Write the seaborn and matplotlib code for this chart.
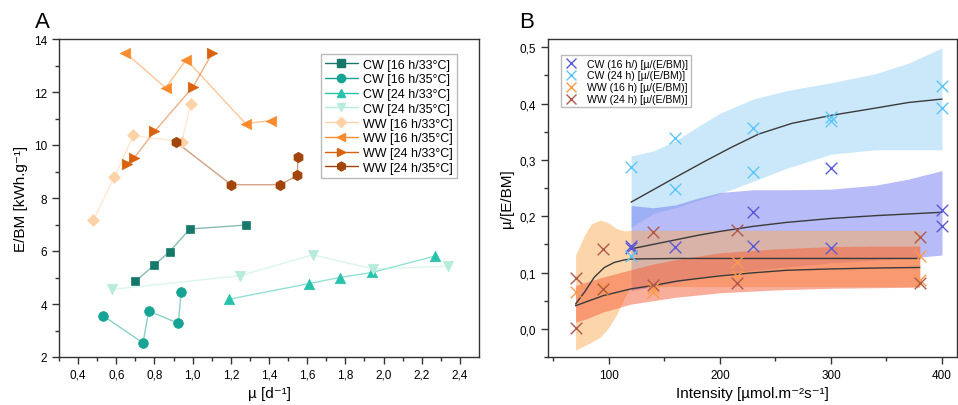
import matplotlib
matplotlib.use("Agg")
import matplotlib.pyplot as plt
import seaborn as sns
from matplotlib.lines import Line2D

# ---------------- Panel A data ----------------
a_labels = ["CW [16 h/33°C]", "CW [16 h/35°C]", "CW [24 h/33°C]", "CW [24 h/35°C]",
            "WW [16 h/33°C]", "WW [16 h/35°C]", "WW [24 h/33°C]", "WW [24 h/35°C]"]
cw16_33_mu = [0.70, 0.80, 0.88, 0.985, 1.28]
cw16_33_e = [4.85, 5.48, 5.98, 6.83, 6.98]
cw16_35_mu = [0.53, 0.74, 0.77, 0.925, 0.94]
cw16_35_e = [3.56, 2.53, 3.74, 3.27, 4.46]
cw24_33_mu = [1.19, 1.61, 1.77, 1.94, 2.27]
cw24_33_e = [4.18, 4.77, 5.00, 5.19, 5.81]
cw24_35_mu = [0.58, 1.25, 1.63, 1.945, 2.34]
cw24_35_e = [4.55, 5.07, 5.86, 5.32, 5.43]
ww16_33_mu = [0.48, 0.59, 0.69, 0.943, 0.99]
ww16_33_e = [7.16, 8.79, 10.36, 10.11, 11.56]
ww16_35_mu = [0.647, 0.858, 0.967, 1.277, 1.408]
ww16_35_e = [13.49, 12.16, 13.22, 10.81, 10.92]
ww24_33_mu = [0.655, 0.692, 0.80, 1.002, 1.103]
ww24_33_e = [9.29, 9.50, 10.51, 12.19, 13.47]
ww24_35_mu = [0.912, 1.202, 1.458, 1.548, 1.552]
ww24_35_e = [10.12, 8.50, 8.50, 8.85, 9.55]

a_xticks = [0.4, 0.6, 0.8, 1.0, 1.2, 1.4, 1.6, 1.8, 2.0, 2.2, 2.4]
a_xticklabels = ["0,4", "0,6", "0,8", "1,0", "1,2", "1,4", "1,6", "1,8", "2,0", "2,2", "2,4"]
a_yticks = [2, 4, 6, 8, 10, 12, 14]

# ---------------- Panel B data ----------------
b_labels = ["CW (16 h/) [µ/(E/BM)]", "CW (24 h) [µ/(E/BM)]", "WW (16 h) [µ/(E/BM)]", "WW (24 h) [µ/(E/BM)]"]
cw16_I = [120, 120, 160, 230, 230, 300, 300, 400, 400]
cw16_v = [0.148, 0.143, 0.145, 0.207, 0.148, 0.286, 0.144, 0.211, 0.183]
cw24_I = [120, 120, 160, 160, 230, 230, 300, 300, 400, 400]
cw24_v = [0.287, 0.129, 0.339, 0.248, 0.357, 0.278, 0.377, 0.369, 0.432, 0.392]
ww16_I = [70, 95, 95, 140, 140, 215, 215, 380, 380]
ww16_v = [0.066, 0.074, 0.069, 0.073, 0.066, 0.118, 0.094, 0.129, 0.086]
ww24_I = [70, 70, 95, 95, 140, 140, 215, 215, 380, 380]
ww24_v = [0.090, 0.001, 0.142, 0.071, 0.172, 0.077, 0.175, 0.082, 0.163, 0.082]

# fitted curves
cw24_fit_x = [120, 140, 160, 185, 210, 235, 265, 300, 340, 370, 400]
cw24_fit_y = [0.225, 0.247, 0.269, 0.296, 0.322, 0.346, 0.365, 0.379, 0.392, 0.402, 0.408]
cw16_fit_x = [120, 140, 160, 180, 200, 230, 260, 300, 340, 370, 400]
cw16_fit_y = [0.142, 0.150, 0.158, 0.166, 0.173, 0.182, 0.189, 0.196, 0.201, 0.204, 0.207]
ww16_fit_x = [70, 78, 87, 96, 105, 114, 121, 160, 200, 250, 300, 350, 380]
ww16_fit_y = [0.044, 0.065, 0.092, 0.109, 0.118, 0.1225, 0.124, 0.125, 0.125, 0.125, 0.125, 0.125, 0.125]
ww24_fit_x = [70, 95, 120, 140, 162, 200, 230, 260, 300, 340, 380]
ww24_fit_y = [0.041, 0.059, 0.071, 0.077, 0.085, 0.094, 0.0995, 0.104, 0.1064, 0.108, 0.109]

# confidence bands
cw24_band_x = [120, 140, 160, 180, 200, 230, 260, 300, 340, 370, 400]
cw24_band_hi = [0.307, 0.316, 0.334, 0.359, 0.383, 0.408, 0.423, 0.437, 0.453, 0.472, 0.499]
cw24_band_lo = [0.180, 0.205, 0.215, 0.228, 0.240, 0.262, 0.285, 0.310, 0.318, 0.318, 0.318]
cw16_band_x = [120, 140, 160, 180, 200, 230, 260, 300, 340, 370, 400]
cw16_band_hi = [0.219, 0.215, 0.220, 0.232, 0.242, 0.247, 0.247, 0.248, 0.255, 0.266, 0.281]
cw16_band_lo = [0.068, 0.075, 0.082, 0.090, 0.097, 0.104, 0.110, 0.117, 0.122, 0.126, 0.131]
ww16_band_x = [70, 78, 84, 92, 99, 107, 114, 120, 160, 200, 250, 300, 340, 380]
ww16_band_hi = [0.131, 0.166, 0.186, 0.193, 0.189, 0.178, 0.174, 0.175, 0.175, 0.175, 0.175, 0.175, 0.175, 0.175]
ww16_band_lo = [-0.038, -0.030, -0.024, -0.015, 0.000, 0.025, 0.055, 0.075, 0.075, 0.075, 0.075, 0.075, 0.075, 0.075]
ww24_band_x = [70, 80, 95, 120, 140, 160, 200, 250, 300, 340, 380]
ww24_band_hi = [0.077, 0.083, 0.092, 0.105, 0.115, 0.123, 0.135, 0.142, 0.146, 0.147, 0.147]
ww24_band_lo = [0.012, 0.018, 0.030, 0.044, 0.050, 0.056, 0.064, 0.069, 0.072, 0.073, 0.074]

b_xticks = [100, 200, 300, 400]
b_yticks = [0.0, 0.1, 0.2, 0.3, 0.4, 0.5]
b_yticklabels = ["0,0", "0,1", "0,2", "0,3", "0,4", "0,5"]

# ---------------- style ----------------
sns.set_theme(style="ticks")
plt.rcParams["font.family"] = ["Liberation Sans", "DejaVu Sans"]
plt.rcParams["axes.edgecolor"] = "#333333"
plt.rcParams["axes.linewidth"] = 1.0
plt.rcParams["text.color"] = "black"
plt.rcParams["axes.labelcolor"] = "black"
plt.rcParams["xtick.color"] = "#333333"
plt.rcParams["ytick.color"] = "#333333"
plt.rcParams["xtick.labelcolor"] = "black"
plt.rcParams["ytick.labelcolor"] = "black"

fig = plt.figure(figsize=(9.58, 4.06), dpi=100)
axA = fig.add_axes([59 / 958, 48 / 406, 420 / 958, 318 / 406])
axB = fig.add_axes([548 / 958, 48 / 406, 409 / 958, 318 / 406])

a_series = [
    (cw16_33_mu, cw16_33_e, "#15786b", "s", 6),
    (cw16_35_mu, cw16_35_e, "#17a393", "o", 7),
    (cw24_33_mu, cw24_33_e, "#27c3ad", "^", 7.5),
    (cw24_35_mu, cw24_35_e, "#b7ecdd", "v", 7.5),
    (ww16_33_mu, ww16_33_e, "#fdd2a6", "D", 6),
    (ww16_35_mu, ww16_35_e, "#fa8c2f", "<", 7.5),
    (ww24_33_mu, ww24_33_e, "#d8620e", ">", 7.5),
    (ww24_35_mu, ww24_35_e, "#a1450a", "h", 7.5),
]
handlesA = []
for (xs, ys, col, mk, ms), lab in zip(a_series, a_labels):
    sns.lineplot(x=xs, y=ys, sort=False, estimator=None, color=col, alpha=0.5,
                 linewidth=1.0, ax=axA)
    sns.scatterplot(x=xs, y=ys, color=col, marker=mk, s=ms ** 2, edgecolor=col,
                    linewidth=0.5, ax=axA, zorder=3)
    handlesA.append(Line2D([], [], color=col, marker=mk, markersize=ms * 0.85,
                           markeredgecolor=col, linewidth=1.0, label=lab,
                           markerfacecolor=col))

axA.set_xlim(0.397, 2.5)
axA.set_ylim(2, 14)
axA.set_xticks(a_xticks)
axA.set_xticklabels(a_xticklabels)
axA.set_yticks(a_yticks)
axA.set_xticks([v + 0.1 for v in a_xticks[:-1]] + [0.3], minor=True)
axA.set_yticks([3, 5, 7, 9, 11, 13], minor=True)
axA.set_xlabel("µ [d⁻¹]", fontsize=11)
axA.set_ylabel("E/BM [kWh.g⁻¹]", fontsize=11)
legA = axA.legend(handles=handlesA, loc="upper right", bbox_to_anchor=(0.962, 0.972),
                  fontsize=9, frameon=True, fancybox=False, edgecolor="#aaaaaa",
                  labelspacing=0.22, handlelength=2.6, borderpad=0.35, handletextpad=0.4)
legA.get_frame().set_linewidth(1.0)

# Panel B
band_specs = [
    (cw24_band_x, cw24_band_lo, cw24_band_hi, "#99d3f7", 0.5),
    (cw16_band_x, cw16_band_lo, cw16_band_hi, "#7078f0", 0.5),
    (ww16_band_x, ww16_band_lo, ww16_band_hi, "#fbac58", 0.5),
    (ww24_band_x, ww24_band_lo, ww24_band_hi, "#f55f39", 0.5),
]
for bx, lo, hi, col, al in band_specs:
    axB.fill_between(bx, lo, hi, color=col, alpha=al, linewidth=0)

for fx, fy in [(cw24_fit_x, cw24_fit_y), (cw16_fit_x, cw16_fit_y),
               (ww16_fit_x, ww16_fit_y), (ww24_fit_x, ww24_fit_y)]:
    sns.lineplot(x=fx, y=fy, sort=False, estimator=None, color="#3a3a3a",
                 linewidth=1.0, ax=axB, zorder=4)

b_series = [(cw16_I, cw16_v, "#5a5ad8"), (cw24_I, cw24_v, "#5cc6f7"),
            (ww16_I, ww16_v, "#fb9a4c"), (ww24_I, ww24_v, "#b0584a")]
handlesB = []
for (xs, ys, col), lab in zip(b_series, b_labels):
    sns.scatterplot(x=xs, y=ys, marker="x", s=70, color=col, linewidth=1.0,
                    ax=axB, zorder=5)
    handlesB.append(Line2D([], [], color=col, marker="x", linestyle="none",
                           markersize=7, markeredgewidth=1.0, label=lab))

axB.set_xlim(45.2, 413.5)
axB.set_ylim(-0.0498, 0.5147)
axB.set_xticks(b_xticks)
axB.set_xticks([50, 150, 250, 350], minor=True)
axB.set_yticks(b_yticks)
axB.set_yticklabels(b_yticklabels)
axB.set_yticks([-0.05, 0.05, 0.15, 0.25, 0.35, 0.45], minor=True)
axB.set_xlabel("Intensity [µmol.m⁻²s⁻¹]", fontsize=11)
axB.set_ylabel("µ/[E/BM]", fontsize=11)
legB = axB.legend(handles=handlesB, loc="upper left", bbox_to_anchor=(0.0196, 0.965),
                  fontsize=7.6, frameon=True, fancybox=False, edgecolor="#aaaaaa",
                  labelspacing=0.18, handlelength=1.2, borderpad=0.3, handletextpad=0.9)
legB.get_frame().set_linewidth(1.0)

for ax in (axA, axB):
    for s in ax.spines.values():
        s.set_visible(True)
        s.set_color("#333333")
    ax.tick_params(axis="both", which="major", direction="out", length=5, width=1,
                   labelsize=8.5, top=False, right=False)
    ax.tick_params(axis="both", which="minor", direction="out", length=3, width=1,
                   top=False, right=False)
    ax.grid(False)

fig.text(35 / 958, 1 - 22 / 406, "A", fontsize=16, va="center", ha="left")
fig.text(519 / 958, 1 - 22 / 406, "B", fontsize=16, va="center", ha="left")

fig.savefig("out.png", dpi=100)
